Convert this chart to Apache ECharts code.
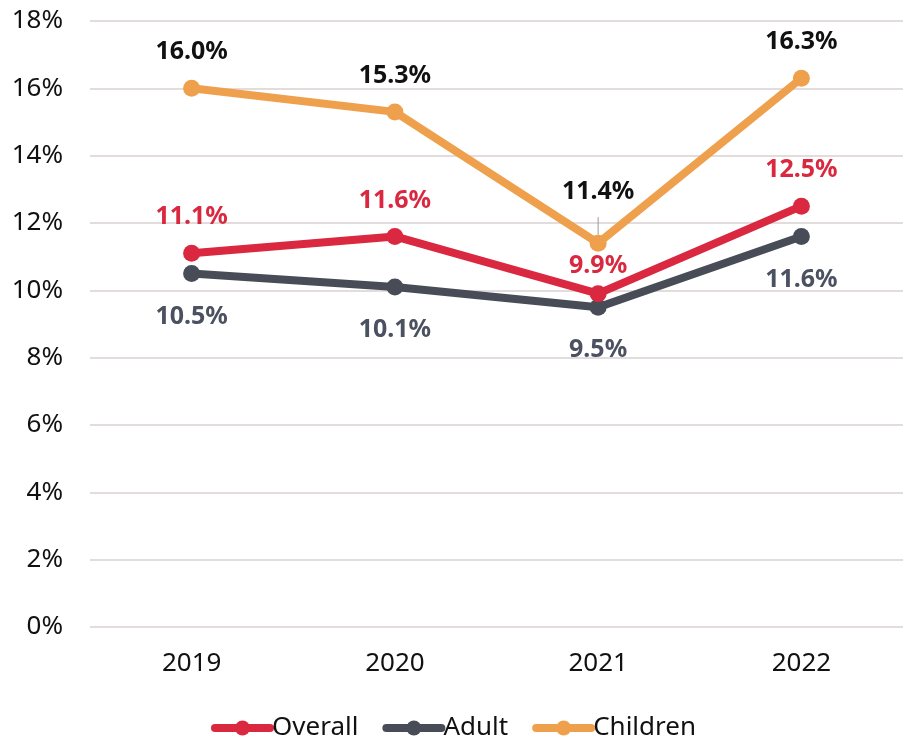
<!DOCTYPE html>
<html>
<head>
<meta charset="utf-8">
<script src="https://cdn.jsdelivr.net/npm/echarts@6/dist/echarts.min.js"></script>
<style>
  html, body { margin: 0; padding: 0; background: #fff; }
  #chart { width: 907px; height: 745px; }
</style>
</head>
<body>
<div id="chart"></div>
<script>
// Share of population (%) by year
const years = ['2019', '2020', '2021', '2022'];
const overall = [11.1, 11.6, 9.9, 12.5];
const adult = [10.5, 10.1, 9.5, 11.6];
const children = [16.0, 15.3, 11.4, 16.3];
const yTicks = [0, 2, 4, 6, 8, 10, 12, 14, 16, 18];

const FONT = '"Noto Sans", "Open Sans", sans-serif';
const RED = '#d9283f';
const GREY = '#474c57';
const ORANGE = '#efa04c';

const chart = echarts.init(document.getElementById('chart'));

function labelled(values, textColor, posFn) {
  return values.map((v, i) => {
    const p = posFn(i);
    const item = {
      value: v,
      label: {
        show: true,
        position: p.position,
        distance: p.distance,
        color: textColor,
        fontFamily: FONT,
        fontWeight: 'bold',
        fontSize: 25,
        formatter: (d) => d.value.toFixed(1) + '%'
      }
    };
    if (p.leader) {
      item.labelLine = { show: true, lineStyle: { color: '#9a9a9a', width: 1 } };
    }
    return item;
  });
}

const series = [
  {
    name: 'Overall',
    color: RED,
    data: labelled(overall, RED, (i) => ({ position: 'top', distance: i === 2 ? 7 : 15 }))
  },
  {
    name: 'Adult',
    color: GREY,
    data: labelled(adult, '#4b5160', () => ({ position: 'bottom', distance: 22 }))
  },
  {
    name: 'Children',
    color: ORANGE,
    data: labelled(children, '#111111', (i) => ({ position: 'top', distance: i === 2 ? 30 : 15, leader: i === 2 })),
    labelLine: { show: false }
  }
].map((s) => Object.assign({
  type: 'line',
  symbol: 'circle',
  symbolSize: 17,
  lineStyle: { width: 8, color: s.color },
  itemStyle: { color: s.color },
  z: s.name === 'Children' ? 3 : (s.name === 'Overall' ? 4 : 2)
}, s));

chart.setOption({
  animation: false,
  backgroundColor: '#ffffff',
  grid: { left: 90, right: 4, top: 21, bottom: 118 },
  legend: {
    bottom: -1,
    left: 'center',
    itemWidth: 55,
    itemHeight: 19,
    itemGap: 24,
    lineStyle: { width: 8, cap: 'round' },
    textStyle: { fontFamily: FONT, fontSize: 26, color: '#111', padding: [0, 0, 0, -3] },
    data: ['Overall', 'Adult', 'Children']
  },
  xAxis: {
    type: 'category',
    data: years,
    boundaryGap: true,
    axisLine: { show: false },
    axisTick: { show: false },
    axisLabel: { fontFamily: FONT, fontSize: 26, color: '#111', margin: 24 }
  },
  yAxis: {
    type: 'value',
    min: yTicks[0],
    max: yTicks[yTicks.length - 1],
    interval: 2,
    axisLine: { show: false },
    axisTick: { show: false },
    splitLine: { lineStyle: { color: '#e2dcdc', width: 2 } },
    axisLabel: {
      fontFamily: FONT, fontSize: 26, color: '#111', margin: 27,
      formatter: (v) => v + '%'
    }
  },
  series: series
});
</script>
</body>
</html>
